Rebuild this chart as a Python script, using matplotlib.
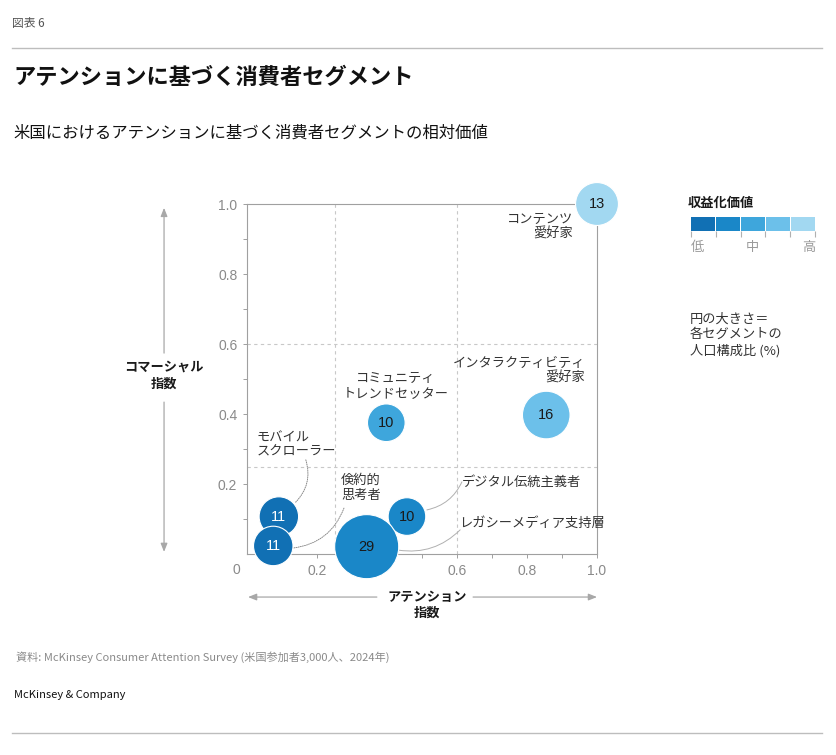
import matplotlib
matplotlib.use("Agg")
import matplotlib.pyplot as plt

plt.rcParams['font.family'] = ['Noto Sans CJK JP', 'DejaVu Sans']

# ---- data ----
segments = ["コンテンツ\n愛好家", "インタラクティビティ\n愛好家", "コミュニティ\nトレンドセッター",
            "モバイル\nスクローラー", "倹約的\n思考者", "デジタル伝統主義者", "レガシーメディア支持層"]
attention = [1.0, 0.855, 0.398, 0.091, 0.075, 0.457, 0.342]
commercial = [1.0, 0.397, 0.375, 0.107, 0.023, 0.107, 0.021]
population = [13, 16, 10, 11, 11, 10, 29]
monetization = [5, 4, 3, 1, 1, 2, 2]   # 1 = low ... 5 = high
quadrant_x = [0.25, 0.6]
quadrant_y = [0.25, 0.6]
ticks = [0.2, 0.4, 0.6, 0.8, 1.0]
xtick_labels = ["0.2", "", "0.6", "0.8", "1.0"]
ytick_labels = ["0.2", "0.4", "0.6", "0.8", "1.0"]
legend_labels = ["低", "中", "高"]

palette = ["#1170b4", "#1a87c8", "#3ea6dc", "#6cc0ea", "#a2d8f1"]
NUM_FONT = ['Liberation Sans', 'DejaVu Sans']

# ---- layout ----
W, H = 836, 755
fig = plt.figure(figsize=(W / 100, H / 100), dpi=100)
def fx(p): return p / W
def fy(p): return 1 - p / H

ax = fig.add_axes([fx(247), fy(554), fx(597) - fx(247), fy(204) - fy(554)])
ax.set_xlim(0, 1)
ax.set_ylim(0, 1)

for s in ax.spines.values():
    s.set_color("#a0a0a0")
    s.set_linewidth(0.8)

for q in quadrant_x:
    ax.axvline(q, color="#c8c8c8", lw=0.8, ls=(0, (3, 3)), zorder=1)
for q in quadrant_y:
    ax.axhline(q, color="#c8c8c8", lw=0.8, ls=(0, (3, 3)), zorder=1)

ax.set_xticks(ticks)
ax.set_yticks(ticks)
ax.set_xticks([0.1, 0.3, 0.5, 0.7, 0.9], minor=True)
ax.set_yticks([0.1, 0.3, 0.5, 0.7, 0.9], minor=True)
ax.set_xticklabels(xtick_labels, family=NUM_FONT)
ax.set_yticklabels(ytick_labels, family=NUM_FONT)
ax.tick_params(which="both", direction="out", length=3, width=0.7, color="#a0a0a0",
               labelcolor="#8a8a8a", labelsize=10, pad=4)
ax.text(-0.029, -0.046, "0", transform=ax.transAxes, ha="center", va="center",
        color="#8a8a8a", fontsize=10, family=NUM_FONT)

sizes = [73.4 * p for p in population]
cols = [palette[m - 1] for m in monetization]
ax.scatter(attention, commercial, s=sizes, c=cols, edgecolors="white", linewidths=0.8,
           zorder=5, clip_on=False)
for xa, yc, p, m in zip(attention, commercial, population, monetization):
    ax.text(xa, yc, str(p), ha="center", va="center", fontsize=10.5, family=NUM_FONT,
            color="white" if m == 1 else "#1a1a1a", zorder=6)

# segment labels (x, y, ha)
label_pos = [(0.931, 0.934, "right"), (0.966, 0.523, "right"), (0.424, 0.48, "center"),
             (0.028, 0.311, "left"), (0.269, 0.189, "left"), (0.613, 0.204, "left"),
             (0.606, 0.088, "left")]
for name, (lx, ly, ha) in zip(segments, label_pos):
    ax.text(lx, ly, name, ha=ha, va="center", multialignment=ha, fontsize=9.5,
            color="#333333", linespacing=1.15, zorder=7)

# leader lines: (label end, bubble end, rad, dotted)
leaders = [((0.168, 0.269), (0.137, 0.146), -0.3, True),
           ((0.277, 0.131), (0.131, 0.017), -0.3, True),
           ((0.614, 0.206), (0.514, 0.126), -0.25, False),
           ((0.609, 0.069), (0.433, 0.011), -0.25, False)]
for start, end, rad, dotted in leaders:
    ax.annotate("", xy=end, xytext=start,
                arrowprops=dict(arrowstyle="-", color="#8a8a8a" if dotted else "#b0b0b0",
                                lw=0.7, ls=(0, (1, 1.2)) if dotted else "-",
                                connectionstyle=f"arc3,rad={rad}",
                                shrinkA=0, shrinkB=0), zorder=4, annotation_clip=False)

# axis arrows
arrow_kw = dict(arrowstyle="-|>,head_length=0.5,head_width=0.2", color="#a8a8a8", lw=0.9,
                shrinkA=0, shrinkB=0)
ax.annotate("", xy=(-0.237, 0.989), xytext=(-0.237, 0.574), xycoords="axes fraction",
            textcoords="axes fraction", arrowprops=arrow_kw, annotation_clip=False)
ax.annotate("", xy=(-0.237, 0.006), xytext=(-0.237, 0.434), xycoords="axes fraction",
            textcoords="axes fraction", arrowprops=arrow_kw, annotation_clip=False)
ax.text(-0.237, 0.511, "コマーシャル\n指数", transform=ax.transAxes, ha="center",
        va="center", fontsize=9.5, fontweight="bold", color="#1a1a1a", linespacing=1.2)

ax.annotate("", xy=(0.003, -0.123), xytext=(0.371, -0.123), xycoords="axes fraction",
            textcoords="axes fraction", arrowprops=arrow_kw, annotation_clip=False)
ax.annotate("", xy=(1.0, -0.123), xytext=(0.646, -0.123), xycoords="axes fraction",
            textcoords="axes fraction", arrowprops=arrow_kw, annotation_clip=False)
ax.text(0.514, -0.146, "アテンション\n指数", transform=ax.transAxes, ha="center",
        va="center", fontsize=9.5, fontweight="bold", color="#1a1a1a", linespacing=1.2)

# ---- legend ----
lax = fig.add_axes([fx(691), fy(231), fx(815) - fx(691), fy(217) - fy(231)])
lax.bar(range(5), [1] * 5, width=0.96, color=palette)
lax.set_xlim(-0.5, 4.5)
lax.set_ylim(0, 1)
lax.axis("off")
lax.vlines([i - 0.5 for i in range(6)], -0.45, 0, color="#b0b0b0", lw=0.8, clip_on=False)
fig.text(fx(688), fy(203), "収益化価値", fontsize=9.5, fontweight="bold", color="#1a1a1a",
         ha="left", va="center")
fig.text(fx(691), fy(248), legend_labels[0], fontsize=9.5, color="#9a9a9a", ha="left", va="center")
fig.text(fx(752.5), fy(248), legend_labels[1], fontsize=9.5, color="#9a9a9a", ha="center", va="center")
fig.text(fx(815), fy(248), legend_labels[2], fontsize=9.5, color="#9a9a9a", ha="right", va="center")
fig.text(fx(690), fy(335), "円の大きさ＝\n各セグメントの\n人口構成比 (%)", fontsize=9.5,
         color="#333333", ha="left", va="center", linespacing=1.3)

# ---- header / footer ----
fig.text(fx(12), fy(23), "図表 6", fontsize=8.5, color="#555555", ha="left", va="center")
fig.add_artist(plt.Line2D([fx(12), fx(822)], [fy(48), fy(48)], color="#bdbdbd", lw=1))
fig.text(fx(13), fy(78), "アテンションに基づく消費者セグメント", fontsize=16, fontweight="bold",
         color="#111111", ha="left", va="center")
fig.text(fx(13), fy(133), "米国におけるアテンションに基づく消費者セグメントの相対価値", fontsize=11.8,
         color="#111111", ha="left", va="center")
fig.text(fx(16), fy(657), "資料: McKinsey Consumer Attention Survey (米国参加者3,000人、2024年)",
         fontsize=8, color="#8a8a8a", ha="left", va="center")
fig.text(fx(14), fy(695), "McKinsey & Company", fontsize=8, color="#111111", ha="left", va="center")
fig.add_artist(plt.Line2D([fx(12), fx(822)], [fy(733), fy(733)], color="#bdbdbd", lw=1))

fig.savefig("out.png", dpi=100, facecolor="white")
